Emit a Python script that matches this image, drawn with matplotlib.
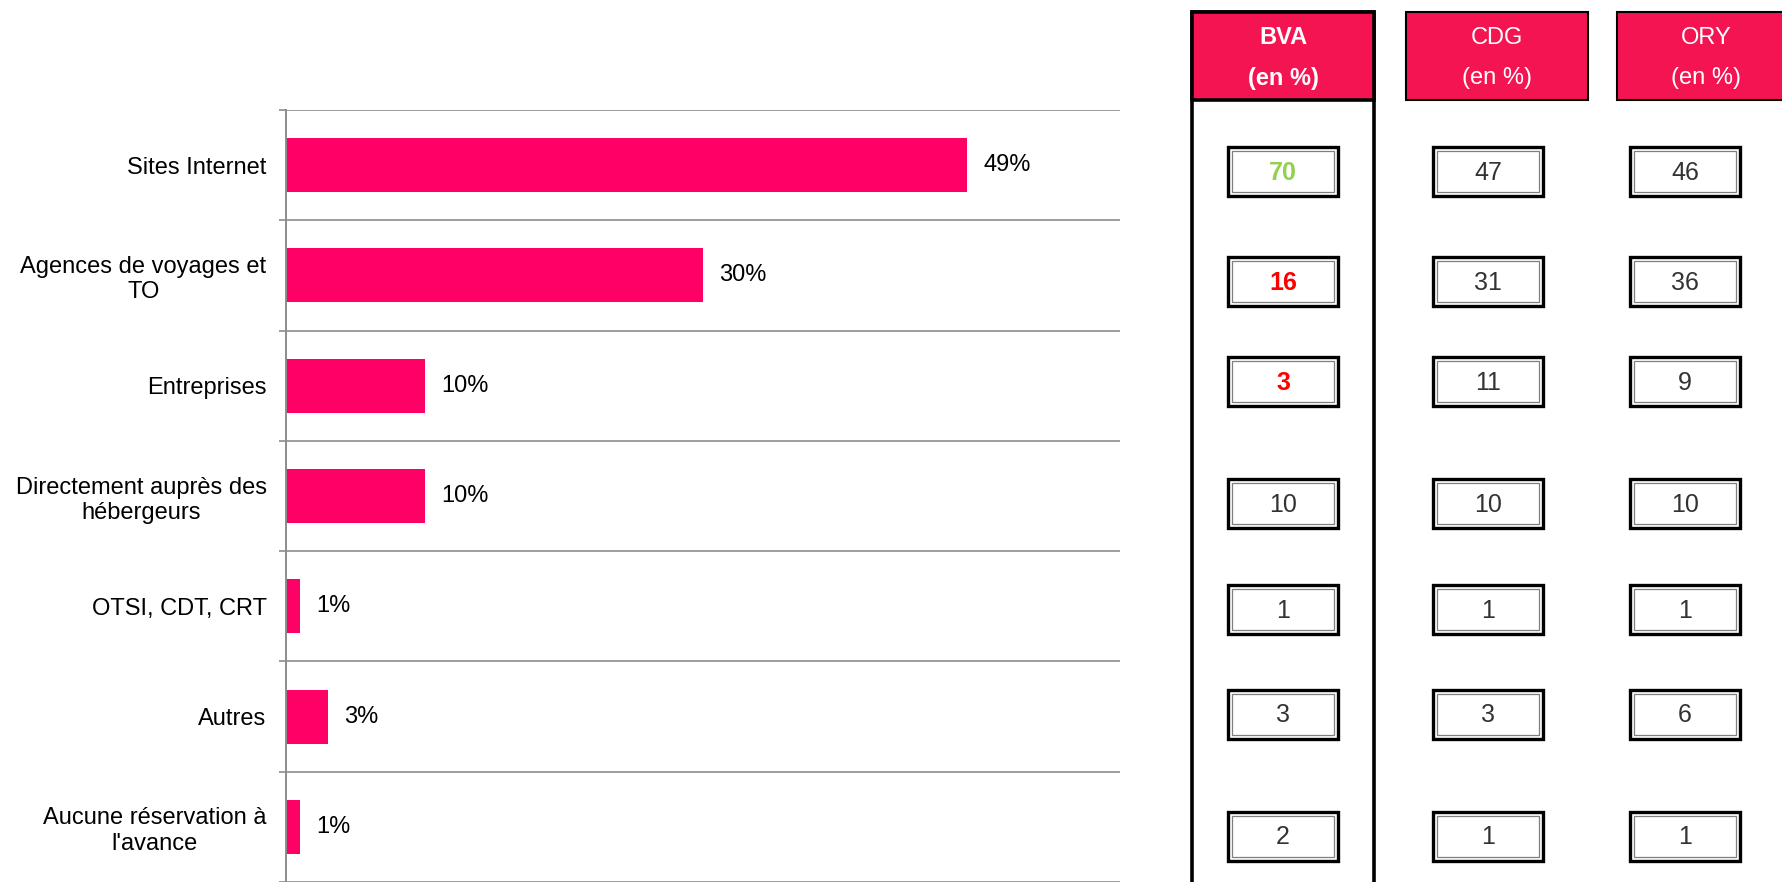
import matplotlib
matplotlib.use("Agg")
import matplotlib.pyplot as plt
from matplotlib.patches import Rectangle

plt.rcParams["font.family"] = ["Liberation Sans", "DejaVu Sans"]

# data
categories = ["Sites Internet", "Agences de voyages et\nTO", "Entreprises",
              "Directement auprès des\nhébergeurs", "OTSI, CDT, CRT", "Autres",
              "Aucune réservation à\nl'avance"]
shares = [49, 30, 10, 10, 1, 3, 1]
airports = ["BVA", "CDG", "ORY"]
bva = [70, 16, 3, 10, 1, 3, 2]
cdg = [47, 31, 11, 10, 1, 3, 1]
ory = [46, 36, 9, 10, 1, 6, 1]

BAR = "#FF0066"
HEAD = "#F41452"
GRID = "#8C8C8C"
TXT = "#333333"
W, H = 1782, 882

fig = plt.figure(figsize=(W / 100, H / 100), dpi=100)

# overlay in pixel coordinates for the comparison table on the right
ov = fig.add_axes([0, 0, 1, 1])
ov.set_xlim(0, W); ov.set_ylim(H, 0)
ov.axis("off")

# bar chart
ax = fig.add_axes([286 / W, 0, (1120 - 286) / W, 1 - 110 / H])
y = list(range(len(categories)))
bars = ax.barh(y, shares, height=0.49, color=BAR)
ax.bar_label(bars, labels=[f"{v}%" for v in shares], padding=11.5, fontsize=17)
ax.set_xlim(0, 60)
ax.set_ylim(len(categories) - 0.5, -0.5)
ax.set_yticks(y)
ax.set_yticklabels(categories, fontsize=17, multialignment="center")
ax.set_yticks([i - 0.5 for i in range(len(categories) + 1)], minor=True)
ax.tick_params(axis="y", which="major", length=0, pad=14)
ax.tick_params(axis="y", which="minor", length=5, width=1.2, color=GRID)
ax.grid(axis="y", which="minor", color=GRID, lw=1.2)
ax.set_xticks([])
for s in ["top", "right", "bottom"]:
    ax.spines[s].set_visible(False)
ax.spines["left"].set_color(GRID)
ax.spines["left"].set_linewidth(1.4)
ax.set_axisbelow(True)

# table layout in pixels
head_x = [(1192, 182), (1406, 182), (1617, 178)]
box_x = [1228, 1433, 1630]
box_w, box_h = 110, 49
row_y = [171.5, 281.5, 381.5, 503.5, 609.5, 714.5, 836.5]

# BVA column frame
ov.add_patch(Rectangle((1192, 12), 182, 1000, facecolor="white",
                       edgecolor="black", lw=2.6, zorder=1))
for k, (name, (x0, wd)) in enumerate(zip(airports, head_x)):
    ov.add_patch(Rectangle((x0, 12), wd, 88, facecolor=HEAD, edgecolor="black",
                           lw=2.6 if k == 0 else 1.5, zorder=2))
    cx = x0 + wd / 2
    wt = "bold" if k == 0 else "normal"
    ov.text(cx, 38, name, ha="center", va="center", color="white",
            fontsize=17, fontweight=wt, zorder=3)
    ov.text(cx, 78, "(en %)", ha="center", va="center", color="white",
            fontsize=17, fontweight=wt, zorder=3)

# value boxes
styles = {0: ("#92D050", "bold"), 1: ("#FF0000", "bold"), 2: ("#FF0000", "bold")}
for c, vals in enumerate([bva, cdg, ory]):
    bx = box_x[c]
    for r, v in enumerate(vals):
        yc = row_y[r]
        ov.add_patch(Rectangle((bx, yc - box_h / 2), box_w, box_h, facecolor="white",
                               edgecolor="black", lw=2.4, zorder=2))
        ov.add_patch(Rectangle((bx + 4, yc - box_h / 2 + 4), box_w - 8, box_h - 8,
                               facecolor="white", edgecolor="#7F7F7F", lw=0.9, zorder=3))
        col, wt = (TXT, "normal")
        if c == 0 and r in styles:
            col, wt = styles[r]
        ov.text(bx + box_w / 2, yc + 1, str(v), ha="center", va="center",
                fontsize=18, color=col, fontweight=wt, zorder=4)

fig.savefig("out.png", dpi=100)
